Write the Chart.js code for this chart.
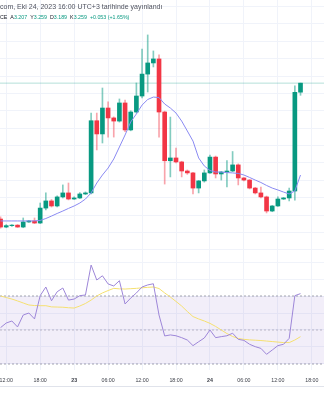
<!DOCTYPE html>
<html lang="tr">
<head>
<meta charset="utf-8">
<script src="https://cdn.jsdelivr.net/npm/chart.js@4.4.0/dist/chart.umd.min.js"></script>
<style>
  html, body { margin: 0; padding: 0; background: #fff; }
  #wrap { position: relative; width: 324px; height: 400px; overflow: hidden; font-family: 'Liberation Sans', Arial, sans-serif; }
  #priceChart { position: absolute; left: 0; top: 0; }
  #rsiChart { position: absolute; left: 0; top: 256px; }
  .hdr { position: absolute; left: 0; white-space: nowrap; color: #131722; line-height: 1; }
  #hdr1 { top: 3px; font-size: 7px; color: #50535e; }
  #hdr2 { top: 15px; font-size: 5.3px; }
  #hdr2 span { margin-left: 3px; }
  #hdr2 .v { margin-left: 0; color: #089981; }
  #foot { position: absolute; left: 0; top: 386px; width: 324px; height: 1px; background: #e0e3eb; }
</style>
</head>
<body>
<div id="wrap">
  <canvas id="priceChart" width="324" height="256"></canvas>
  <canvas id="rsiChart" width="324" height="144"></canvas>
  <div class="hdr" id="hdr1">com, Eki 24, 2023 16:00 UTC+3 tarihinde yayınlandı</div>
  <div class="hdr" id="hdr2">CE<span>A</span><span class="v">3.207</span><span>Y</span><span class="v">3.259</span><span>D</span><span class="v">3.189</span><span>K</span><span class="v">3.259</span><span class="v" style="margin-left:3px">+0.053 (+1.65%)</span></div>
  <div id="foot"></div>
</div>
<script>
// Hourly candles, first one at 11:00 on the 22nd (hour 0 = 12:00)
const startHour = -1;

const opens = [
  2.478, 2.432, 2.440, 2.443, 2.432, 2.461, 2.467, 2.455, 2.541, 2.582,
  2.553, 2.605, 2.628, 2.593, 2.599, 2.622, 2.628, 3.043, 2.967, 3.116,
  3.059, 3.041, 3.145, 2.990, 3.093, 3.185, 3.311, 3.375, 3.398, 3.093,
  2.813, 2.829, 2.806, 2.754, 2.743, 2.656, 2.697, 2.743, 2.834, 2.737,
  2.748, 2.754, 2.789, 2.714, 2.702, 2.656, 2.628, 2.605, 2.524, 2.553,
  2.593, 2.599, 2.639, 3.207
];
const highs = [
  2.490, 2.446, 2.446, 2.446, 2.484, 2.470, 2.484, 2.570, 2.628, 2.590,
  2.612, 2.674, 2.685, 2.605, 2.630, 2.634, 3.087, 3.087, 3.231, 3.151,
  3.065, 3.168, 3.162, 3.100, 3.260, 3.455, 3.536, 3.444, 3.421, 3.098,
  3.064, 2.886, 2.810, 2.760, 2.746, 2.700, 2.760, 2.846, 2.840, 2.752,
  2.814, 2.866, 2.795, 2.716, 2.705, 2.660, 2.662, 2.610, 2.556, 2.605,
  2.602, 2.656, 3.243, 3.259
];
const lows = [
  2.426, 2.428, 2.436, 2.430, 2.428, 2.458, 2.452, 2.452, 2.530, 2.547,
  2.547, 2.599, 2.588, 2.590, 2.596, 2.618, 2.622, 2.875, 2.915, 2.949,
  2.949, 3.035, 2.980, 2.985, 3.087, 3.174, 3.208, 3.352, 2.949, 2.679,
  2.720, 2.800, 2.720, 2.735, 2.622, 2.628, 2.690, 2.740, 2.714, 2.702,
  2.662, 2.750, 2.674, 2.697, 2.651, 2.622, 2.600, 2.513, 2.520, 2.550,
  2.590, 2.582, 2.587, 3.189
];
const closes = [
  2.432, 2.440, 2.443, 2.432, 2.461, 2.467, 2.455, 2.541, 2.582, 2.553,
  2.605, 2.628, 2.593, 2.599, 2.622, 2.628, 3.043, 2.967, 3.116, 3.059,
  3.041, 3.145, 2.990, 3.093, 3.185, 3.311, 3.375, 3.398, 3.093, 2.813,
  2.829, 2.806, 2.754, 2.743, 2.656, 2.697, 2.743, 2.834, 2.737, 2.748,
  2.754, 2.789, 2.714, 2.702, 2.656, 2.628, 2.605, 2.524, 2.553, 2.593,
  2.599, 2.639, 3.206, 3.259
];
// moving average drawn over the candles
const maValues = [
  2.467, 2.467, 2.467, 2.467, 2.467, 2.467, 2.467, 2.470, 2.481, 2.495,
  2.510, 2.524, 2.539, 2.553, 2.570, 2.593, 2.628, 2.685, 2.731, 2.771,
  2.823, 2.892, 2.961, 3.036, 3.082, 3.133, 3.165, 3.179, 3.176, 3.139,
  3.116, 3.087, 3.041, 2.984, 2.926, 2.829, 2.783, 2.757, 2.748, 2.748,
  2.745, 2.743, 2.740, 2.731, 2.717, 2.702, 2.688, 2.671, 2.656, 2.645,
  2.633, 2.622, 2.639, 2.731
];
const rsiValues = [
  51.4, 54.1, 55.3, 51.8, 58.8, 60.0, 56.5, 70.2, 75.3, 67.2,
  72.5, 74.7, 67.6, 68.2, 70.2, 70.6, 88.2, 79.4, 81.9, 77.1,
  75.9, 79.0, 65.3, 68.8, 71.8, 75.3, 76.5, 77.2, 58.8, 46.5,
  47.1, 46.6, 45.5, 44.1, 40.8, 43.1, 45.3, 50.0, 45.5, 46.1,
  46.6, 48.1, 44.5, 43.9, 41.6, 40.2, 39.2, 35.7, 38.2, 40.8,
  41.6, 45.1, 70.2, 71.4
];
const rsiMaValues = [
  70.0, 69.1, 68.2, 67.1, 65.9, 64.7, 64.4, 64.3, 64.3, 63.6,
  63.5, 63.4, 63.1, 62.9, 64.1, 65.6, 67.6, 70.0, 71.8, 73.2,
  74.5, 74.2, 74.1, 74.3, 74.5, 74.8, 75.1, 75.3, 74.4, 71.8,
  69.4, 66.8, 64.1, 60.9, 57.9, 56.5, 55.3, 53.9, 52.1, 50.0,
  47.9, 46.2, 45.0, 44.5, 44.2, 44.0, 43.8, 43.5, 43.2, 42.9,
  42.6, 42.6, 44.1, 46.1
];

const tickHours = [0, 6, 12, 18, 24, 30, 36, 42, 48, 54];
const tickLabels = ['12:00', '18:00', '23', '06:00', '12:00', '18:00', '24', '06:00', '12:00', '18:00'];
const dayLabels = ['23', '24'];
const lastPrice = 3.259;
const rsiUpper = 70;
const rsiMiddle = 50;
const rsiLower = 30;

// visible window, pane ranges
const X_MIN = -1.1, X_MAX = 56.15;
const PRICE_MIN = 2.2655, PRICE_MAX = 3.7368;
const RSI_MIN = 26.47, RSI_MAX = 93.53;

const UP = '#089981';
const DOWN = '#F23645';
const GRID = '#f0f3fa';

const hours = opens.map((_, i) => startHour + i);
const isUp = opens.map((o, i) => closes[i] >= o);

function flatLine(v) {
  return [{ x: X_MIN, y: v }, { x: X_MAX, y: v }];
}

// shared x-axis bits
function xAxis(showLabels) {
  return {
    type: 'linear',
    min: X_MIN,
    max: X_MAX,
    offset: false,
    grid: { color: GRID, drawTicks: false, offset: false },
    border: { display: false },
    ticks: {
      display: showLabels,
      autoSkip: false,
      maxRotation: 0,
      minRotation: 0,
      padding: 7,
      color: '#3c3f48',
      font: ctx => ({
        family: "'Liberation Sans', Arial, sans-serif",
        size: 5.3,
        weight: dayLabels.includes(tickLabels[ctx.index]) ? 'bold' : 'normal'
      }),
      callback: value => tickLabels[tickHours.indexOf(value)]
    },
    afterBuildTicks: s => { s.ticks = tickHours.map(v => ({ value: v })); },
    afterFit: s => {
      s.height = showLabels ? 30 : 0;
      s.paddingLeft = 0;
      s.paddingRight = 0;
    }
  };
}

function yAxis(min, max, gridValues) {
  return {
    type: 'linear',
    min, max,
    beginAtZero: false,
    grid: { color: GRID, drawTicks: false },
    border: { display: false },
    ticks: { display: false },
    afterBuildTicks: s => { s.ticks = gridValues.map(v => ({ value: v })); },
    afterFit: s => { s.width = 0; }
  };
}

const priceGrid = [];
for (let v = 23; v <= 37; v++) priceGrid.push(v / 10);

const baseOptions = {
  responsive: false,
  animation: false,
  events: [],
  layout: { padding: 0 },
  plugins: { legend: { display: false }, tooltip: { enabled: false } }
};

new Chart(document.getElementById('priceChart'), {
  type: 'bar',
  data: {
    datasets: [
      {
        type: 'line',
        data: flatLine(lastPrice),
        borderColor: 'rgba(8,153,129,0.3)',
        borderWidth: 1,
        pointRadius: 0,
        order: 4
      },
      {
        // wicks
        data: hours.map((h, i) => ({ x: h, y: [lows[i], highs[i]] })),
        backgroundColor: isUp.map(u => u ? 'rgba(8,153,129,0.5)' : 'rgba(242,54,69,0.45)'),
        barThickness: 1,
        grouped: false,
        order: 3
      },
      {
        // bodies
        data: hours.map((h, i) => ({ x: h, y: [opens[i], closes[i]] })),
        backgroundColor: isUp.map(u => u ? UP : DOWN),
        barThickness: 4,
        grouped: false,
        order: 2
      },
      {
        type: 'line',
        data: hours.map((h, i) => ({ x: h, y: maValues[i] })),
        borderColor: '#8a8af2',
        borderWidth: 1,
        pointRadius: 0,
        tension: 0,
        order: 1
      }
    ]
  },
  options: {
    ...baseOptions,
    scales: {
      x: xAxis(false),
      y: yAxis(PRICE_MIN, PRICE_MAX, priceGrid)
    }
  }
});

new Chart(document.getElementById('rsiChart'), {
  type: 'line',
  data: {
    datasets: [
      {
        data: flatLine(rsiUpper),
        borderColor: '#a3a6af',
        borderWidth: 1,
        borderDash: [2, 2],
        pointRadius: 0,
        fill: { target: 2 },
        backgroundColor: 'rgba(126,87,194,0.1)',
        order: 5
      },
      {
        data: flatLine(rsiMiddle),
        borderColor: 'rgba(120,123,134,0.45)',
        borderWidth: 1,
        borderDash: [2, 2],
        pointRadius: 0,
        order: 5
      },
      {
        data: flatLine(rsiLower),
        borderColor: '#a3a6af',
        borderWidth: 1,
        borderDash: [2, 2],
        pointRadius: 0,
        order: 5
      },
      {
        data: hours.map((h, i) => ({ x: h, y: rsiMaValues[i] })),
        borderColor: '#f5e070',
        borderWidth: 1,
        pointRadius: 0,
        tension: 0,
        order: 2
      },
      {
        data: hours.map((h, i) => ({ x: h, y: rsiValues[i] })),
        borderColor: '#9d86d8',
        borderWidth: 1,
        pointRadius: 0,
        tension: 0,
        order: 1
      }
    ]
  },
  options: {
    ...baseOptions,
    scales: {
      x: xAxis(true),
      y: yAxis(RSI_MIN, RSI_MAX, [30, 40, 50, 60, 70, 80, 90])
    }
  }
});
</script>
</body>
</html>
